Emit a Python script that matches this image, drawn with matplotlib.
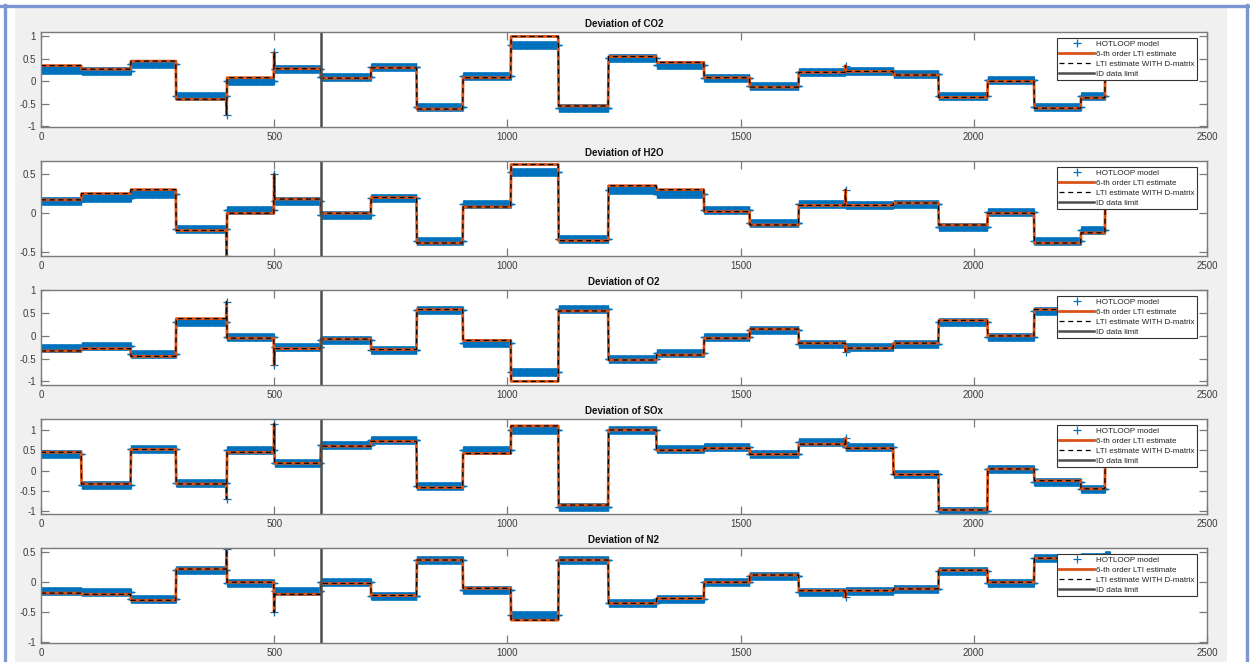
import numpy as np
import matplotlib
matplotlib.use('Agg')
import matplotlib.pyplot as plt
from matplotlib.lines import Line2D
from matplotlib.patches import Rectangle
from matplotlib.ticker import FuncFormatter, FixedLocator

plt.rcParams['font.family'] = ['Liberation Sans', 'DejaVu Sans']
plt.rcParams['axes.unicode_minus'] = False

# ---------------- data ----------------
breaks = [0, 87, 193, 290, 398, 500, 600, 708, 806, 905, 1008, 1110, 1217,
          1320, 1422, 1520, 1625, 1725, 1828, 1925, 2030, 2130, 2230, 2282, 2292]
spike_x = [398, 500, 1725]
id_limit = 600

titles = ['Deviation of CO2', 'Deviation of H2O', 'Deviation of O2',
          'Deviation of SOx', 'Deviation of N2']

co2_model = [0.25, 0.22, 0.38, -0.33, 0.00, 0.28, 0.10, 0.32, -0.58, 0.12, 0.82, -0.60,
             0.52, 0.36, 0.08, -0.10, 0.20, 0.22, 0.16, -0.32, 0.02, -0.57, -0.33, 0.45]
co2_est = [0.35, 0.27, 0.45, -0.40, 0.08, 0.28, 0.07, 0.30, -0.62, 0.08, 1.00, -0.55,
           0.55, 0.42, 0.08, -0.13, 0.20, 0.22, 0.14, -0.36, 0.00, -0.60, -0.37, 0.50]
co2_spikes = [-0.75, 0.65, 0.35]

h2o_model = [0.15, 0.20, 0.25, -0.20, 0.04, 0.15, -0.02, 0.20, -0.35, 0.12, 0.52, -0.33,
             0.30, 0.25, 0.04, -0.12, 0.12, 0.10, 0.12, -0.17, 0.02, -0.35, -0.22, 0.15]
h2o_est = [0.17, 0.25, 0.30, -0.22, 0.00, 0.18, 0.00, 0.20, -0.38, 0.08, 0.62, -0.35,
           0.35, 0.30, 0.02, -0.15, 0.10, 0.10, 0.13, -0.15, 0.00, -0.38, -0.25, 0.20]
h2o_spikes = [-0.55, 0.50, 0.30]

o2_model = [-0.27, -0.22, -0.40, 0.30, -0.02, -0.25, -0.10, -0.30, 0.58, -0.15, -0.80, 0.60,
            -0.50, -0.38, -0.03, 0.12, -0.17, -0.24, -0.18, 0.30, -0.03, 0.55, 0.55, 0.55]
o2_est = [-0.33, -0.28, -0.45, 0.38, -0.05, -0.28, -0.07, -0.30, 0.58, -0.10, -1.00, 0.55,
          -0.53, -0.42, -0.05, 0.15, -0.16, -0.27, -0.16, 0.34, 0.00, 0.58, 0.58, 0.58]
o2_spikes = [0.75, -0.65, -0.35]

sox_model = [0.42, -0.35, 0.52, -0.30, 0.50, 0.18, 0.62, 0.75, -0.38, 0.50, 1.00, -0.90,
             1.00, 0.52, 0.58, 0.42, 0.70, 0.58, -0.08, -1.00, 0.05, -0.27, -0.45, 0.40]
sox_est = [0.45, -0.33, 0.52, -0.33, 0.45, 0.18, 0.60, 0.72, -0.42, 0.42, 1.10, -0.85,
           1.00, 0.50, 0.55, 0.40, 0.65, 0.55, -0.10, -0.97, 0.04, -0.25, -0.45, 0.40]
sox_spikes = [-0.70, 1.15, 0.80]

n2_model = [-0.15, -0.17, -0.27, 0.20, -0.02, -0.15, 0.00, -0.22, 0.37, -0.13, -0.55, 0.37,
            -0.35, -0.28, 0.00, 0.10, -0.17, -0.15, -0.12, 0.18, -0.02, 0.40, 0.42, 0.45]
n2_est = [-0.18, -0.20, -0.30, 0.22, 0.00, -0.20, -0.02, -0.22, 0.37, -0.10, -0.63, 0.37,
          -0.35, -0.27, 0.00, 0.12, -0.14, -0.14, -0.11, 0.20, 0.00, 0.40, 0.42, 0.45]
n2_spikes = [0.55, -0.50, -0.25]

models = [co2_model, h2o_model, o2_model, sox_model, n2_model]
ests = [co2_est, h2o_est, o2_est, sox_est, n2_est]
spikes = [co2_spikes, h2o_spikes, o2_spikes, sox_spikes, n2_spikes]

ylims = [(-1.02, 1.10), (-0.545, 0.665), (-1.08, 1.01), (-1.07, 1.27), (-1.01, 0.57)]
yticks = [[-1, -0.5, 0, 0.5, 1], [-0.5, 0, 0.5], [-1, -0.5, 0, 0.5, 1],
          [-1, -0.5, 0, 0.5, 1], [-1, -0.5, 0, 0.5]]
xticks = [0, 500, 1000, 1500, 2000, 2500]

legend_labels = ['HOTLOOP model', '6-th order LTI estimate',
                 'LTI estimate WITH D-matrix', 'ID data limit']

# ---------------- styling ----------------
W, H = 1250, 662
BLUE = '#0072BD'
ORANGE = '#D95319'
SPINE = '#7a7a7a'

fig = plt.figure(figsize=(W / 100, H / 100), dpi=100)
fig.patch.set_facecolor('white')

# gray panel and blue frame
fig.add_artist(Rectangle((15 / W, 0), (1227 - 15) / W, (H - 8) / H,
                         transform=fig.transFigure, facecolor='#f0f0f0',
                         edgecolor='none', zorder=-10))
frame_c = '#7b96d2'
fig.add_artist(Line2D([0, 1], [1 - 5.5 / H, 1 - 5.5 / H], transform=fig.transFigure,
                      color=frame_c, lw=2.4))
fig.add_artist(Line2D([4.5 / W, 4.5 / W], [0, 1 - 4.5 / H], transform=fig.transFigure,
                      color=frame_c, lw=2.4))
fig.add_artist(Line2D([1 - 3.5 / W, 1 - 3.5 / W], [0, 1 - 4.5 / H], transform=fig.transFigure,
                      color=frame_c, lw=2.4))

x = np.arange(breaks[-1])
seg_len = np.diff(breaks)

left_px, width_px = 41, 1166
ax_h_px = 95
fmt = FuncFormatter(lambda v, p: '%g' % v)

for i in range(5):
    top_px = 32 + 129 * i
    ax = fig.add_axes([left_px / W, 1 - (top_px + ax_h_px) / H, width_px / W, ax_h_px / H])

    model = np.repeat(np.array(models[i], dtype=float), seg_len)
    est = np.repeat(np.array(ests[i], dtype=float), seg_len)
    model[spike_x] = spikes[i]
    est[spike_x] = spikes[i]

    h1, = ax.plot(x, model, linestyle='none', marker='+', color=BLUE,
                  markersize=5.5, markeredgewidth=0.9)
    h2, = ax.plot(x, est, color=ORANGE, lw=2.0)
    h3, = ax.plot(x, est, color='black', lw=0.9, linestyle=(0, (4, 3)))
    h4 = ax.axvline(id_limit, color='#4d4d4d', lw=1.8)

    ax.set_xlim(0, 2500)
    ax.set_ylim(*ylims[i])
    ax.xaxis.set_major_locator(FixedLocator(xticks))
    ax.yaxis.set_major_locator(FixedLocator(yticks[i]))
    ax.xaxis.set_major_formatter(fmt)
    ax.yaxis.set_major_formatter(fmt)
    ax.tick_params(direction='in', length=5.5, width=0.9, color=SPINE,
                   labelsize=7, labelcolor='#3c3c3c', pad=3.5,
                   top=True, right=True)
    for s in ax.spines.values():
        s.set_color(SPINE)
        s.set_linewidth(1.0)
    ax.set_facecolor('white')
    ax.set_title(titles[i], fontsize=7, fontweight='bold', pad=3.5, color='#111111')

    leg = ax.legend([h1, h2, h3, h4], legend_labels, loc='upper right',
                    bbox_to_anchor=(1 - 10 / width_px, 1 - 6 / ax_h_px),
                    borderaxespad=0, fontsize=5.8, frameon=True, fancybox=False,
                    framealpha=1, edgecolor='#333333', handlelength=4.4,
                    handletextpad=0.2, labelspacing=0.28, borderpad=0.3)
    leg.get_frame().set_linewidth(0.8)
    for t in leg.get_texts():
        t.set_color('#222222')

fig.savefig('out.png', dpi=100, facecolor=fig.get_facecolor())
